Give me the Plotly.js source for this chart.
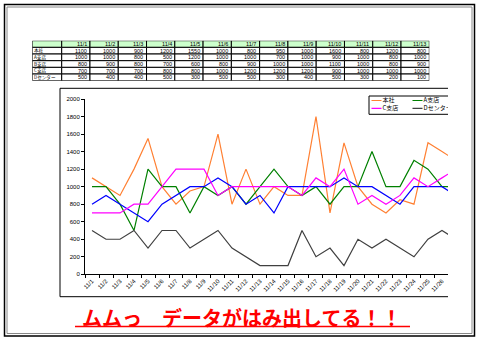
<!DOCTYPE html>
<html><head><meta charset="utf-8">
<script src="https://cdn.plot.ly/plotly-3.0.1.min.js"></script>
<style>html,body{margin:0;padding:0;background:#fff;overflow:hidden}</style>
</head><body><div id="chart" style="width:480px;height:340px"></div>
<script>
// ---- data ----
const dates = ['11/1','11/2','11/3','11/4','11/5','11/6','11/7','11/8','11/9','11/10','11/11','11/12','11/13','11/14','11/15','11/16','11/17','11/18','11/19','11/20','11/21','11/22','11/23','11/24','11/25','11/26','11/27'];
const seriesNames = ['本社','A支店','B支店','C支店','Dセンター'];
const honsha  = [1100,1000,900,1200,1550,1000,800,950,1000,1600,800,1200,800,1000,900,900,1800,700,1500,1000,800,700,850,800,1500,1400,1300];
const shitenA = [1000,1000,800,500,1200,1000,1000,700,1000,900,1000,800,1000,1200,1000,900,1000,800,1000,1000,1400,1000,1000,1300,1200,1000,1000];
const shitenB = [800,900,800,700,600,800,900,1000,1000,1100,1000,800,900,700,1000,1000,1000,1000,1100,1000,1000,900,800,1000,1000,1000,900];
const shitenC = [700,700,700,800,800,1000,1200,1200,1200,900,1000,1000,1000,1000,1000,900,1100,1000,1200,800,900,800,900,1100,1000,1100,1200];
const centerD = [500,400,400,500,300,500,500,300,400,500,300,200,100,100,100,500,200,300,100,400,300,400,300,200,400,500,400];
const tableDayCount = 13;
const yTicks = [0,200,400,600,800,1000,1200,1400,1600,1800,2000];
const titleText = 'ムムっ　データがはみ出してる！！';

// ---- styling ----
const colors = ['#ff8033','#008000','#0000ff','#ff00ff','#404040'];
const seriesValues = [honsha, shitenA, shitenB, shitenC, centerD];
const W = 480, H = 340;
const px = x => x / W, py = y => 1 - y / H;
const jpFont = 'Noto Sans CJK JP, sans-serif';
const numFont = 'Liberation Sans Narrow, Liberation Sans, Arial, sans-serif';

const traces = seriesValues.map((vals, i) => ({
  type: 'scatter', mode: 'lines', x: dates, y: vals, name: seriesNames[i],
  line: {color: colors[i], width: 1.2}, showlegend: false, hoverinfo: 'skip'
}));

const shapes = [];
const annotations = [];

// outer double frame
shapes.push({type:'rect', xref:'paper', yref:'paper', x0:px(4.5), x1:px(474.5), y0:py(336), y1:py(4.5), line:{color:'#000', width:1.5}});
shapes.push({type:'rect', xref:'paper', yref:'paper', x0:px(7), x1:px(472), y0:py(333.5), y1:py(7), line:{color:'#888', width:1}});

// chart area border (clipped at right)
shapes.push({type:'path', xref:'paper', yref:'paper',
  path:`M ${px(448)} ${py(88.3)} L ${px(60)} ${py(88.3)} L ${px(60)} ${py(296.7)} L ${px(448)} ${py(296.7)}`,
  line:{color:'#000', width:1}});

// legend box (clipped at right)
shapes.push({type:'path', xref:'paper', yref:'paper',
  path:`M ${px(448)} ${py(96)} L ${px(369)} ${py(96)} L ${px(369)} ${py(114.3)} L ${px(448)} ${py(114.3)}`,
  line:{color:'#000', width:1}});
// legend entries drawn on their own clipped axes (x3/y3, pixel units)
const legendCols = [371.5, 412.5, 453.5];
const legendRows = [100.5, 108.3];
seriesNames.forEach((n, i) => {
  const c = i % 3, r = Math.floor(i / 3);
  const x0 = legendCols[c], y = legendRows[r];
  traces.push({type:'scatter', mode:'lines', x:[x0, x0+10], y:[y, y], xaxis:'x3', yaxis:'y3',
    line:{color:colors[i], width:1.2}, showlegend:false, hoverinfo:'skip'});
  traces.push({type:'scatter', mode:'text', x:[x0+11], y:[y], xaxis:'x3', yaxis:'y3', text:[n],
    textposition:'middle right', textfont:{family:jpFont, size:6, color:'#000'}, cliponaxis:true,
    showlegend:false, hoverinfo:'skip'});
});

// ---- table on its own axes ----
const rowLabels = seriesNames;
for (let j = -1; j < tableDayCount; j++) {
  const x0 = j < 0 ? -1.04 : j, x1 = j < 0 ? 0 : j + 1;
  shapes.push({type:'rect', xref:'x2', yref:'y2', x0, x1, y0:0, y1:1, fillcolor:'#ccffcc', line:{color:'#000', width:1}, layer:'below'});
  for (let r = 0; r < rowLabels.length; r++) {
    shapes.push({type:'rect', xref:'x2', yref:'y2', x0, x1, y0:r+1, y1:r+2, fillcolor:'#fff', line:{color:'#000', width:1}, layer:'below'});
  }
  if (j >= 0) {
    annotations.push({xref:'x2', yref:'y2', x:j+0.92, y:0.5, xanchor:'right', yanchor:'middle', showarrow:false,
      text:dates[j], font:{family:numFont, size:5.5, color:'#000'}, borderpad:0});
    seriesValues.forEach((vals, r) => {
      annotations.push({xref:'x2', yref:'y2', x:j+0.92, y:r+1.5, xanchor:'right', yanchor:'middle', showarrow:false,
        text:String(vals[j]), font:{family:numFont, size:5.5, color:'#000'}, borderpad:0});
    });
  }
}
rowLabels.forEach((n, r) => {
  annotations.push({xref:'x2', yref:'y2', x:-1.0, y:r+1.5, xanchor:'left', yanchor:'middle', showarrow:false,
    text:n, font:{family:jpFont, size:4.6, color:'#000'}, borderpad:0});
});

// title
annotations.push({xref:'paper', yref:'paper', x:px(241), y:py(317), xanchor:'center', yanchor:'middle', showarrow:false,
  text:'<b>'+titleText+'</b>', font:{family:jpFont, size:20, color:'#ff0000'}});
shapes.push({type:'line', xref:'paper', yref:'paper', x0:px(75), x1:px(410), y0:py(326.5), y1:py(326.5), line:{color:'#ff0000', width:1.5}});

const layout = {
  width: W, height: H, autosize: false,
  margin: {l:0, r:0, t:0, b:0, pad:0},
  paper_bgcolor: '#fff', plot_bgcolor: 'rgba(0,0,0,0)',
  showlegend: false,
  xaxis: {
    domain: [px(85), px(448)], type: 'category', range: [-0.5, 25.43],
    tickangle: -45, tickfont: {family: numFont, size: 6, color:'#000'},
    ticks: 'outside', tickson: 'boundaries', ticklen: 3, tickcolor:'#000',
    showline: true, linecolor: '#000', linewidth: 1, showgrid: false, zeroline: false,
    anchor: 'y', fixedrange: true
  },
  yaxis: {
    domain: [py(274.3), py(99)], range: [0, 2000], tickvals: yTicks,
    tickfont: {family: numFont, size: 6, color:'#000'},
    ticks: 'outside', ticklen: 3, tickcolor:'#000',
    showline: true, linecolor: '#000', linewidth: 1, showgrid: false, zeroline: false,
    anchor: 'x', fixedrange: true
  },
  xaxis2: {domain:[px(32.3), px(429.3)], range:[-1.04, 13], visible:false, anchor:'y2', fixedrange:true},
  yaxis2: {domain:[py(80.7), py(40.7)], range:[6, 0], visible:false, anchor:'x2', fixedrange:true},
  xaxis3: {domain:[px(369.5), px(448)], range:[369.5, 448], visible:false, anchor:'y3', fixedrange:true},
  yaxis3: {domain:[py(114), py(96.5)], range:[114, 96.5], visible:false, anchor:'x3', fixedrange:true},
  shapes, annotations
};

traces.push({type:'scatter', mode:'markers', x:[0], y:[0], xaxis:'x2', yaxis:'y2', marker:{opacity:0}, showlegend:false, hoverinfo:'skip'});

Plotly.newPlot('chart', traces, layout, {staticPlot:true, displayModeBar:false});
</script></body></html>
